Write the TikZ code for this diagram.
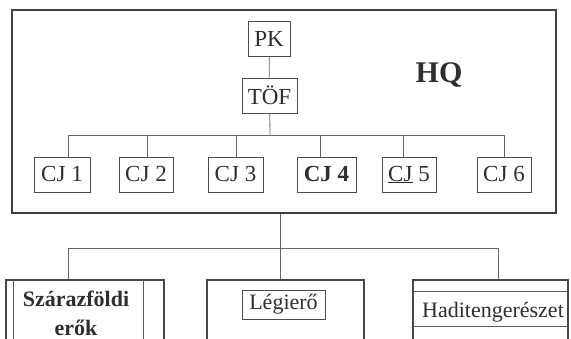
\documentclass[tikz,border=0pt]{standalone}
\usepackage{fontspec}
\setmainfont{Liberation Serif}
\begin{document}
\begin{tikzpicture}[x=1pt,y=-1pt,
  ln/.style={draw=black!60, line width=0.8pt},
  box/.style={draw=black!70, line width=0.9pt, inner sep=0pt, minimum height=35pt,
    text=black!82, font=\fontsize{23}{25}\selectfont},
  frame/.style={draw=black!75, line width=2.4pt, inner sep=0pt},
  big/.style={draw=black!72, line width=1.4pt, inner sep=0pt},
  thin/.style={draw=black!65, line width=0.8pt},
  lab/.style={text=black!82, inner sep=0pt}]
\useasboundingbox (0,0) rectangle (571,339);
\clip (0,0) rectangle (571,339);
% HQ frame
\node[frame, minimum width=544pt, minimum height=203pt] (hq) at (284,111.5) {};
\node[lab, font=\fontsize{30}{32}\selectfont\bfseries, anchor=base] (hqlabel) at (439,82.5) {HQ};
% top
\node[box, minimum width=42pt] (pk) at (269,38.5) {PK};
\node[box, minimum width=55pt] (tof) at (269.5,95.5) {TÖF};
\draw[ln] (pk) -- (tof);
% CJ row
\node[box, minimum width=56pt] (cj1) at (62,174.5) {CJ 1};
\node[box, minimum width=54pt] (cj2) at (146,174.5) {CJ 2};
\node[box, minimum width=55pt] (cj3) at (235.5,174.5) {CJ 3};
\node[box, minimum width=59pt, font=\fontsize{23}{25}\selectfont\bfseries] (cj4) at (326.5,174.5) {CJ 4};
\node[box, minimum width=54pt] (cj5) at (409,174.5) {\underline{CJ} 5};
\node[box, minimum width=54pt] (cj6) at (504,174.5) {CJ 6};
\coordinate (bus) at (270,135);
\coordinate (d1) at (68,135);
\coordinate (d2) at (147,135);
\coordinate (d3) at (236,135);
\coordinate (d4) at (320,135);
\coordinate (d5) at (403,135);
\coordinate (d6) at (504,135);
\draw[ln] (tof) -- (bus);
\draw[ln] (d1) -- (d6);
\draw[ln] (d1) -- (d1 |- cj1.north);
\draw[ln] (d2) -- (d2 |- cj2.north);
\draw[ln] (d3) -- (d3 |- cj3.north);
\draw[ln] (d4) -- (d4 |- cj4.north);
\draw[ln] (d5) -- (d5 |- cj5.north);
\draw[ln] (d6) -- (d6 |- cj6.north);
% bottom level
\node[big, minimum width=158pt, minimum height=80pt] (land) at (85,320) {};
\node[big, minimum width=157pt, minimum height=80pt] (air) at (285.5,320) {};
\node[big, minimum width=155pt, minimum height=80pt] (navy) at (490.5,320) {};
\coordinate (hb) at (280,248);
\coordinate (e1) at (68,248);
\coordinate (e3) at (498,248);
\draw[ln] (hq.south -| hb) -- (hb);
\draw[ln] (e1) -- (e3);
\draw[ln] (e1) -- (e1 |- land.north);
\draw[ln] (hb) -- (hb |- air.north);
\draw[ln] (e3) -- (e3 |- navy.north);
% land box inner sides
\draw[thin] ([xshift=8pt]land.north west) -- ([xshift=8pt]land.south west);
\draw[thin] ([xshift=-21pt]land.north east) -- ([xshift=-21pt]land.south east);
\node[lab, align=center, font=\fontsize{22}{29}\selectfont\bfseries] (landtxt) at (76,313) {Szárazföldi\\erők};
% air
\node[box, minimum width=83pt, minimum height=29pt, font=\fontsize{22}{24}\selectfont] (airtxt) at (283.5,304.5) {Légierő};
% navy
\draw[thin] ([yshift=-12pt]navy.north west) -- ([yshift=-12pt]navy.north east);
\draw[thin] ([yshift=-47pt]navy.north west) -- ([yshift=-47pt]navy.north east);
\node[lab, font=\fontsize{22}{24}\selectfont, anchor=base] (navytxt) at (493,318) {Haditengerészet};
\end{tikzpicture}
\end{document}
